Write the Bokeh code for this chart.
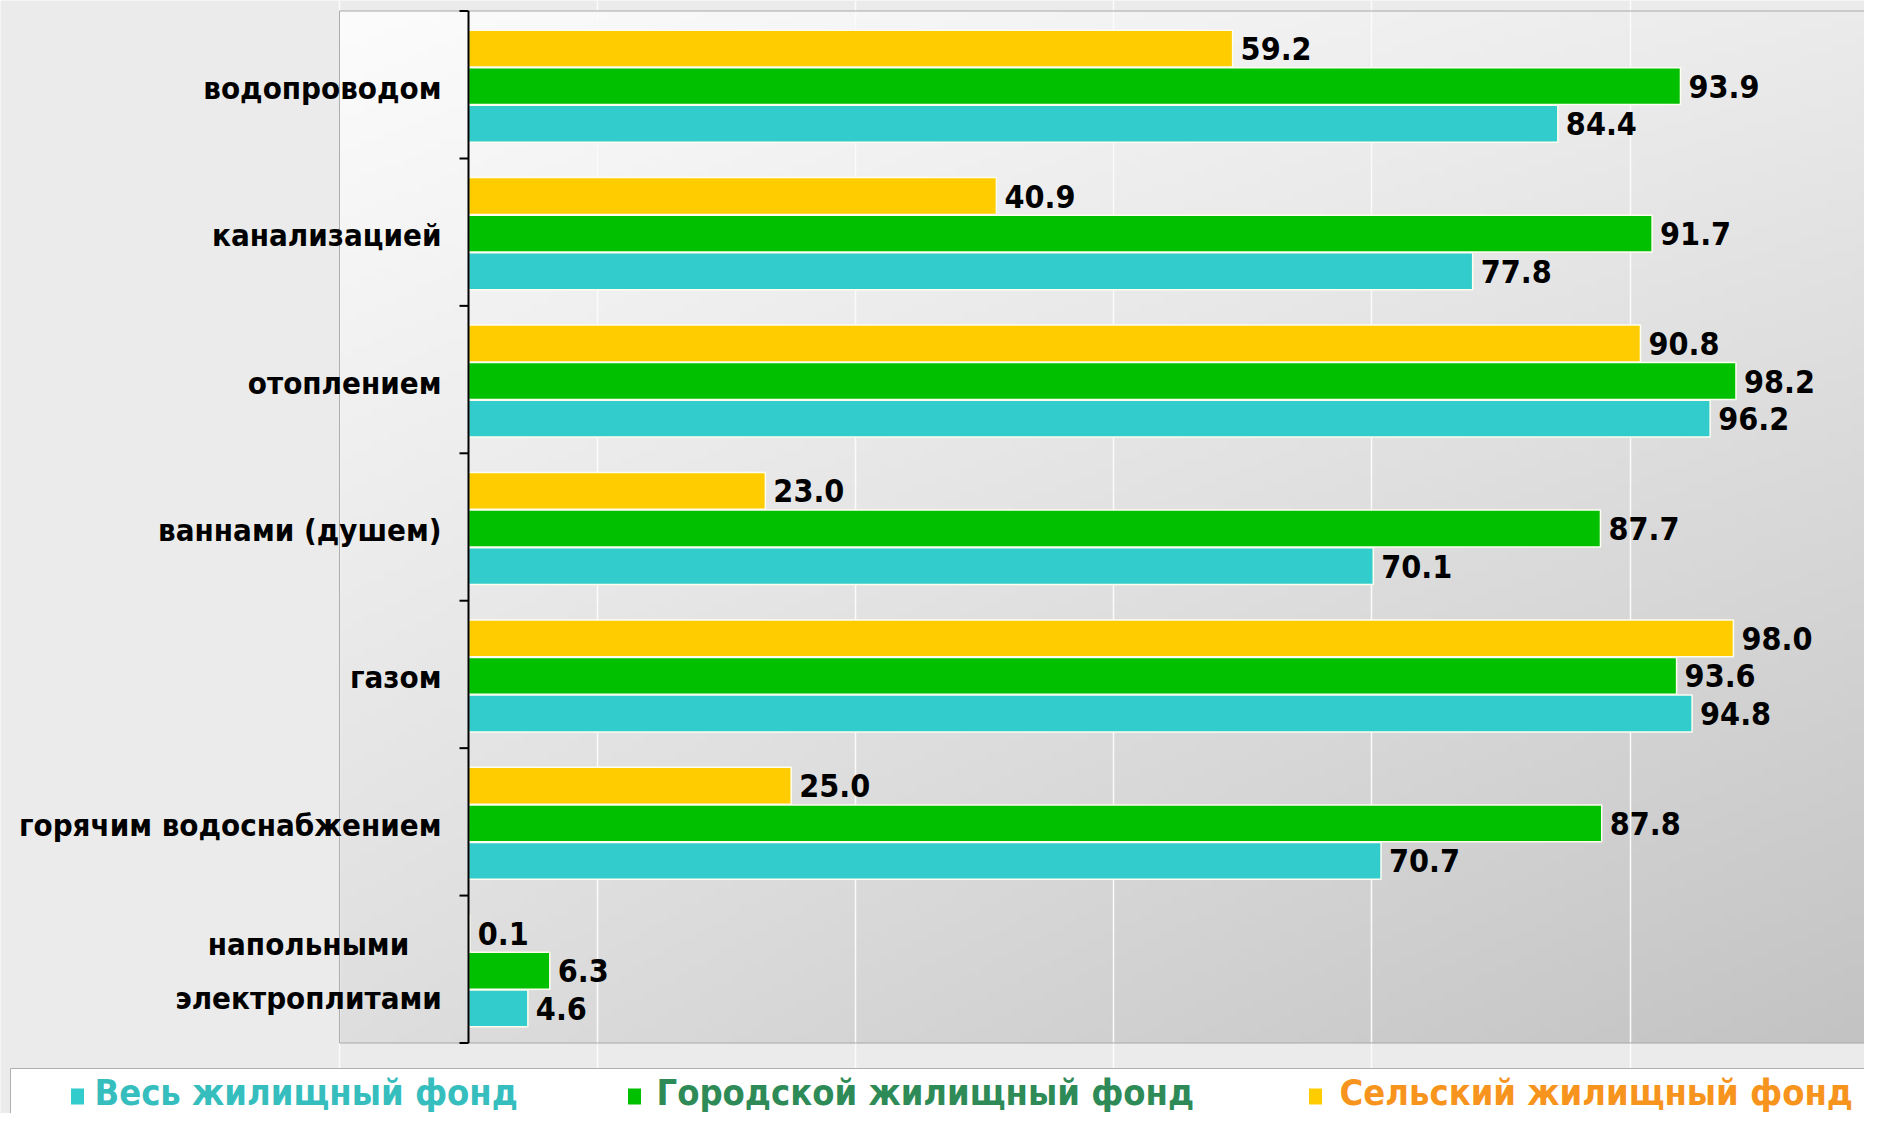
import numpy as np
from bokeh.plotting import figure
from bokeh.models import Range1d, Grid, FixedTicker, ColumnDataSource
from bokeh.core.properties import value
from bokeh.embed import file_html
from bokeh.resources import INLINE

# ---------------- data ----------------
categories = ["водопроводом", "канализацией", "отоплением", "ваннами (душем)",
              "газом", "горячим водоснабжением", "напольными\nэлектроплитами"]
total_fund = [84.4, 77.8, 96.2, 70.1, 94.8, 70.7, 4.6]
urban_fund = [93.9, 91.7, 98.2, 87.7, 93.6, 87.8, 6.3]
rural_fund = [59.2, 40.9, 90.8, 23.0, 98.0, 25.0, 0.1]
series_names = ["Весь жилищный фонд", "Городской  жилищный фонд", "Сельский  жилищный фонд"]
grid_ticks = [-10, 10, 30, 50, 70, 90, 110]

# ---------------- layout / style ----------------
W, H = 1864, 1113
X0_PX, X_SCALE = 468.0, 12.907     # pixel of value 0, pixels per unit
Y0_PX, Y_SCALE = 10.5, 147.43      # pixel of first category edge, pixels per category


def px_x(px):
    return (px - X0_PX) / X_SCALE


def px_y(py):
    return (py - Y0_PX) / Y_SCALE


FONT = value("Noto Sans Condensed, DejaVu Sans Condensed, Liberation Sans, sans-serif")
bar_colors = ["#33CCCC", "#00C000", "#FFCC00"]
text_colors = ["#36BEBE", "#2E8B57", "#F7941D"]
offsets = [0.255, 0.0, -0.255]   # cyan bottom, green middle, yellow top
BAR_H = 0.25
n = len(categories)

p = figure(width=W, height=H,
           x_range=Range1d(px_x(0), px_x(W)), y_range=Range1d(px_y(H), px_y(0)),
           x_axis_type=None, y_axis_type=None, toolbar_location=None,
           output_backend="svg", min_border=0,
           background_fill_color="#ebebeb", border_fill_color="#ebebeb",
           outline_line_color=None)

# plot-area gradient background
ny, nx = 120, 240
yy, xx = np.mgrid[0:ny, 0:nx]
xf = xx / (nx - 1)
yf = yy / (ny - 1)
v = (252 - 17 * xf - 30 * yf - 10 * xf * yf).astype(np.uint32)
img = np.empty((ny, nx), dtype=np.uint32)
view = img.view(dtype=np.uint8).reshape((ny, nx, 4))
view[:, :, 0] = v
view[:, :, 1] = v
view[:, :, 2] = v
view[:, :, 3] = 255
x_left = grid_ticks[0]
x_right = p.x_range.end
p.image_rgba(image=[img], x=x_left, y=0, dw=x_right - x_left, dh=n, level="image")

# grid
grid = Grid(dimension=0, ticker=FixedTicker(ticks=grid_ticks),
            grid_line_color="#fbfbfb", grid_line_width=1.5)
p.add_layout(grid)

# plot-area outline
p.quad(left=[x_left], right=[x_right], top=[0], bottom=[n],
       fill_alpha=0, line_color="#a8a8a8", line_width=1)

centers = np.arange(n) + 0.51
for vals, col, off in zip([total_fund, urban_fund, rural_fund], bar_colors, offsets):
    ys = centers + off
    src = ColumnDataSource(dict(y=ys, right=vals,
                                lab=[f"{x:.1f}" for x in vals]))
    p.hbar(y="y", left=0, right="right", height=BAR_H, source=src,
           fill_color=col, line_color="#fdfdf0", line_width=1.5)
    p.text(x="right", y="y", text="lab", source=src, x_offset=8,
           text_baseline="middle", text_align="left",
           text_font=FONT, text_font_style="bold", text_font_size="32px",
           text_color="black")

# category axis at value 0
p.segment(x0=[0], y0=[0], x1=[0], y1=[n], line_color="black", line_width=2)
p.ray(x=0, y=np.arange(n + 1), length=9, length_units="screen", angle=np.pi,
      line_color="black", line_width=2)

p.text(x=0, y=centers[:-1] + 0.01, text=categories[:-1], x_offset=-27,
       text_align="right", text_baseline="middle",
       text_font=FONT, text_font_style="bold", text_font_size="31px",
       text_color="black")
p.text(x=0, y=centers[-1:], text=categories[-1:], x_offset=-160,
       text_align="center", text_baseline="middle", text_line_height=1.5,
       text_font=FONT, text_font_style="bold", text_font_size="31px",
       text_color="black")

# ---------------- legend strip ----------------
p.quad(left=[px_x(10)], right=[px_x(W)], top=[px_y(1068)], bottom=[px_y(H)],
       fill_color="white", line_color="#b0b0b0", line_width=1)
marker_px = [77, 634, 1315]
text_px = [94, 656, 1339]
p.rect(x=[px_x(m) for m in marker_px], y=px_y(1096), width=13, height=16,
       width_units="screen", height_units="screen",
       fill_color=bar_colors, line_color=None)
p.text(x=[px_x(t) for t in text_px], y=px_y(1092), text=series_names,
       text_color=text_colors,
       text_font=FONT, text_font_style="bold", text_font_size="36px",
       text_baseline="middle", text_align="left")

open("out.html", "w").write(file_html(p, INLINE))
